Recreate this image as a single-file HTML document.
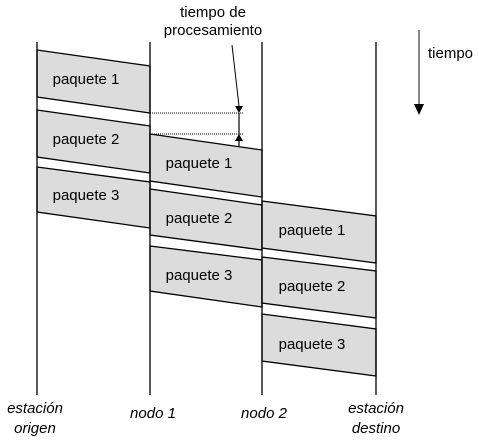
<!DOCTYPE html>
<html><head><meta charset="utf-8"><style>body{margin:0;background:#fff}svg{display:block}</style></head><body>
<svg width="479" height="441" viewBox="0 0 479 441" xmlns="http://www.w3.org/2000/svg" font-family="Liberation Sans, sans-serif" font-size="15">
<g fill="#dcdcdc" stroke="#000" stroke-width="1.3">
<polygon points="37,50 150,66 150,113 37,97"/>
<polygon points="37,110 150,126 150,173 37,157"/>
<polygon points="37,167 150,182 150,228 37,212"/>
<polygon points="150,134 262,150 262,197 150,181"/>
<polygon points="150,189 262,205 262,250 150,235"/>
<polygon points="150,246 262,260 262,307 150,291"/>
<polygon points="262,201 376,216 376,263 262,248"/>
<polygon points="262,257 376,271 376,318 262,303"/>
<polygon points="262,314 376,329 376,376 262,361"/>
</g>
<g stroke="#000" stroke-width="1.3">
<line x1="37" y1="42" x2="37" y2="395"/>
<line x1="150" y1="42" x2="150" y2="395"/>
<line x1="262" y1="42" x2="262" y2="395"/>
<line x1="376" y1="42" x2="376" y2="395"/>
</g>
<g stroke="#000" stroke-width="1" stroke-dasharray="1,1">
<line x1="150" y1="113" x2="244" y2="113"/>
<line x1="150" y1="134" x2="244" y2="134"/>
</g>
<line x1="232" y1="45" x2="239" y2="106" stroke="#000" stroke-width="1"/>
<polygon points="235,106 243,106 239,113" fill="#000"/>
<line x1="239" y1="113" x2="239" y2="146" stroke="#000" stroke-width="1.2"/>
<polygon points="235,141 243,141 239,134" fill="#000"/>
<line x1="419" y1="30" x2="419" y2="106" stroke="#444" stroke-width="1.3"/>
<polygon points="414,104 424,104 419,115" fill="#000"/>
<g fill="#000">
<text x="86" y="84" text-anchor="middle">paquete 1</text>
<text x="86" y="144" text-anchor="middle">paquete 2</text>
<text x="86" y="200" text-anchor="middle">paquete 3</text>
<text x="199" y="168" text-anchor="middle">paquete 1</text>
<text x="199" y="223" text-anchor="middle">paquete 2</text>
<text x="199" y="280" text-anchor="middle">paquete 3</text>
<text x="312" y="235" text-anchor="middle">paquete 1</text>
<text x="312" y="291" text-anchor="middle">paquete 2</text>
<text x="312" y="349" text-anchor="middle">paquete 3</text>
<text x="213" y="17" text-anchor="middle">tiempo de</text>
<text x="213" y="35" text-anchor="middle">procesamiento</text>
<text x="428" y="58">tiempo</text>
<g font-style="italic">
<text x="35" y="413" text-anchor="middle">estación</text>
<text x="35" y="433" text-anchor="middle">origen</text>
<text x="153" y="418" text-anchor="middle">nodo 1</text>
<text x="264" y="418" text-anchor="middle">nodo 2</text>
<text x="376" y="413" text-anchor="middle">estación</text>
<text x="376" y="433" text-anchor="middle">destino</text>
</g>
</g>
</svg>
</body></html>
